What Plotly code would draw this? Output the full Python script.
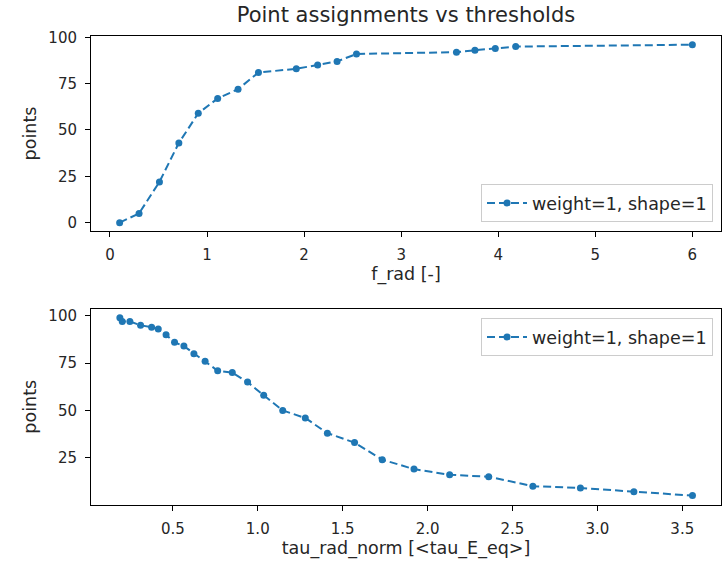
import plotly.graph_objects as go

# Top panel data
f_rad = [0.10, 0.30, 0.51, 0.71, 0.91, 1.11, 1.32, 1.53, 1.92, 2.14, 2.34, 2.54,
         3.57, 3.76, 3.97, 4.18, 6.00]
points_f = [0, 5, 22, 43, 59, 67, 72, 81, 83, 85, 87, 91, 92, 93, 94, 95, 96]

# Bottom panel data
tau_rad_norm = [0.188, 0.202, 0.247, 0.31, 0.375, 0.414, 0.46, 0.51, 0.565, 0.624,
                0.69, 0.764, 0.85, 0.94, 1.035, 1.147, 1.28, 1.41, 1.57, 1.733,
                1.92, 2.13, 2.36, 2.62, 2.90, 3.215, 3.56]
points_tau = [99, 97, 97, 95, 94, 93, 90, 86, 84, 80, 76, 71, 70, 65, 58, 50, 46,
              38, 33, 24, 19, 16, 15, 10, 9, 7, 5]

series_name = "weight=1, shape=1"
title_text = "Point assignments vs thresholds"
xlabel_top = "f_rad [-]"
xlabel_bottom = "tau_rad_norm [<tau_E_eq>]"
ylabel = "points"

W, H = 723, 562
color = "#1f77b4"
font_family = "DejaVu Sans"
txt = "#262626"

def px_x(x):
    return x / W

def px_y(y):
    return 1 - y / H

line_style = dict(color=color, width=2, dash="8px,4px")
marker_style = dict(color=color, size=7)

fig = go.Figure()
fig.add_trace(go.Scatter(x=f_rad, y=points_f, mode="lines+markers", name=series_name,
                         line=line_style, marker=marker_style, xaxis="x", yaxis="y",
                         legend="legend"))
fig.add_trace(go.Scatter(x=tau_rad_norm, y=points_tau, mode="lines+markers", name=series_name,
                         line=line_style, marker=marker_style, xaxis="x2", yaxis="y2",
                         legend="legend2"))

axis_common = dict(showline=True, mirror=True, linecolor="black", linewidth=1,
                   showgrid=False, zeroline=False, ticks="outside", ticklen=5,
                   tickwidth=1, tickcolor="black", automargin=False,
                   ticklabelstandoff=5,
                   tickfont=dict(size=15, color=txt, family=font_family))

label_font = dict(size=17.5, color=txt, family=font_family)
legend_font = dict(size=17.5, color=txt, family=font_family)

fig.update_layout(
    width=W, height=H,
    margin=dict(l=0, r=0, t=0, b=0),
    paper_bgcolor="white", plot_bgcolor="white",
    font=dict(family=font_family, color=txt, size=15),
    title=dict(text=title_text, x=406 / W, xref="paper", xanchor="center",
               y=1 - 15 / H, yref="container", yanchor="middle", automargin=False,
               font=dict(size=21, color=txt, family=font_family)),
    xaxis=dict(domain=[px_x(91), px_x(721)], range=[-0.195, 6.295], anchor="y",
               tickvals=[0, 1, 2, 3, 4, 5, 6],
               title=dict(text=xlabel_top, standoff=4, font=label_font),
               **axis_common),
    yaxis=dict(domain=[px_y(231), px_y(36)], range=[-4.5, 100.7], anchor="x",
               tickvals=[0, 25, 50, 75, 100],
               title=dict(text=ylabel, standoff=7, font=label_font),
               **axis_common),
    xaxis2=dict(domain=[px_x(91), px_x(721)], range=[0.018, 3.728], anchor="y2",
                tickvals=[0.5, 1.0, 1.5, 2.0, 2.5, 3.0, 3.5], tickformat=".1f",
                title=dict(text=xlabel_bottom, standoff=4, font=label_font),
                **axis_common),
    yaxis2=dict(domain=[px_y(504.5), px_y(309)], range=[0.3, 103.6], anchor="x2",
                tickvals=[25, 50, 75, 100],
                title=dict(text=ylabel, standoff=7, font=label_font),
                **axis_common),
    legend=dict(x=px_x(713), y=px_y(222), xanchor="right", yanchor="bottom",
                bgcolor="rgba(255,255,255,0.8)", bordercolor="#cccccc", borderwidth=1,
                font=legend_font, itemwidth=40),
    legend2=dict(x=px_x(713), y=px_y(318), xanchor="right", yanchor="top",
                 bgcolor="rgba(255,255,255,0.8)", bordercolor="#cccccc", borderwidth=1,
                 font=legend_font, itemwidth=40),
    showlegend=True,
)

fig.write_html("out.html")
